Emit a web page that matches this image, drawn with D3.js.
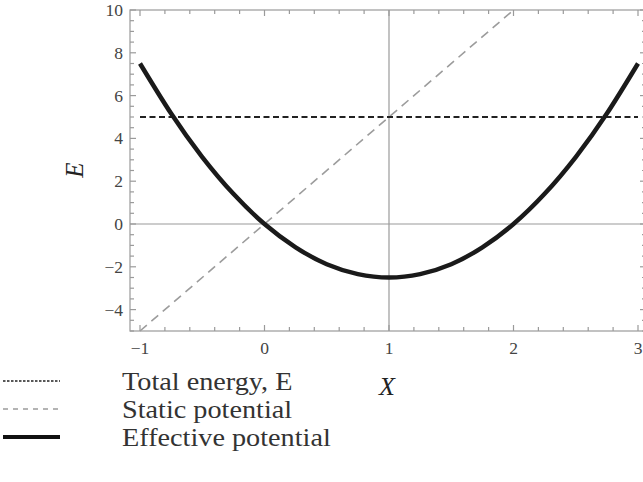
<!DOCTYPE html>
<html>
<head>
<meta charset="utf-8">
<script src="https://cdn.jsdelivr.net/npm/d3@7"></script>
<style>
  html, body { margin: 0; padding: 0; background: #fff; }
  svg { display: block; }
  text { font-family: "Liberation Serif", "DejaVu Serif", serif; }
</style>
</head>
<body>
<svg id="chart" width="643" height="482"></svg>
<script>
// Effective potential sampled along X
const effX = [-1, -0.75, -0.5, -0.25, 0, 0.25, 0.5, 0.75, 1, 1.25, 1.5, 1.75, 2, 2.25, 2.5, 2.75, 3];
const effE = [7.5, 5.16, 3.13, 1.41, 0, -1.09, -1.88, -2.34, -2.5, -2.34, -1.88, -1.09, 0, 1.41, 3.13, 5.16, 7.5];
// Static potential (straight line) endpoints
const staticX = [-1, 2];
const staticE = [-5, 10];
// Total energy level
const energyX = [-1, 3];
const energyE = [5, 5];

const xTicks = [-1, 0, 1, 2, 3];
const yTicks = [-4, -2, 0, 2, 4, 6, 8, 10];
const xTickLabels = ["\u22121", "0", "1", "2", "3"];
const yTickLabels = ["\u22124", "\u22122", "0", "2", "4", "6", "8", "10"];
const legendLabels = ["Total energy, E", "Static potential", "Effective potential"];

const svg = d3.select("#chart");

const x = d3.scaleLinear().domain([-1, 3]).range([140, 638]);
const y = d3.scaleLinear().domain([-5, 10]).range([331, 10]);

const frame = { left: 130, right: 646, top: 10, bottom: 331 };
const frameColor = "#9a9a9a";

// Axes through the frame interior (X = 1, E = 0)
svg.append("line")
  .attr("x1", frame.left).attr("x2", frame.right)
  .attr("y1", y(0)).attr("y2", y(0))
  .attr("stroke", frameColor).attr("stroke-width", 1.2);
svg.append("line")
  .attr("x1", x(1)).attr("x2", x(1))
  .attr("y1", frame.top).attr("y2", frame.bottom)
  .attr("stroke", frameColor).attr("stroke-width", 1.2);

// Frame
svg.append("rect")
  .attr("x", frame.left).attr("y", frame.top)
  .attr("width", frame.right - frame.left).attr("height", frame.bottom - frame.top)
  .attr("fill", "none").attr("stroke", frameColor).attr("stroke-width", 1.2);

// Inward ticks on all four sides
const xMinor = d3.range(-1, 3.0001, 0.2);
const yMinor = d3.range(-5, 10.0001, 0.5);
const isMajorX = v => Math.abs(v - Math.round(v)) < 1e-6;
const isMajorY = v => Math.abs(v / 2 - Math.round(v / 2)) < 1e-6;

const ticks = svg.append("g").attr("stroke", frameColor).attr("stroke-width", 1.2);
xMinor.forEach(v => {
  const len = isMajorX(v) ? 6 : 4;
  ticks.append("line").attr("x1", x(v)).attr("x2", x(v)).attr("y1", frame.bottom).attr("y2", frame.bottom - len);
  ticks.append("line").attr("x1", x(v)).attr("x2", x(v)).attr("y1", frame.top).attr("y2", frame.top + len);
});
yMinor.forEach(v => {
  const len = isMajorY(v) ? 6 : 4;
  ticks.append("line").attr("y1", y(v)).attr("y2", y(v)).attr("x1", frame.left).attr("x2", frame.left + len);
  ticks.append("line").attr("y1", y(v)).attr("y2", y(v)).attr("x1", frame.right).attr("x2", frame.right - len);
});

// Tick labels
const labelColor = "#444";
svg.append("g").selectAll("text").data(xTicks).join("text")
  .attr("x", d => x(d)).attr("y", 354)
  .attr("text-anchor", "middle").attr("font-size", 17.5).attr("fill", labelColor)
  .text((d, i) => xTickLabels[i]);
svg.append("g").selectAll("text").data(yTicks).join("text")
  .attr("x", 123).attr("y", d => y(d) + 6)
  .attr("text-anchor", "end").attr("font-size", 17.5).attr("fill", labelColor)
  .text((d, i) => yTickLabels[i]);

// Axis titles
svg.append("text")
  .attr("transform", "translate(83,170) rotate(-90)")
  .attr("text-anchor", "middle").attr("font-size", 25).attr("font-style", "italic").attr("fill", "#222")
  .text("E");
svg.append("text")
  .attr("x", x(1) - 2).attr("y", 395)
  .attr("text-anchor", "middle").attr("font-size", 26).attr("font-style", "italic").attr("fill", "#222")
  .text("X");

// Curves
const line = d3.line().x(d => x(d[0])).y(d => y(d[1]));

svg.append("path")
  .datum(staticX.map((v, i) => [v, staticE[i]]))
  .attr("d", line)
  .attr("fill", "none").attr("stroke", "#9c9c9c").attr("stroke-width", 1.6)
  .attr("stroke-dasharray", "9,6");

svg.append("path")
  .datum(energyX.map((v, i) => [v, energyE[i]]))
  .attr("d", line)
  .attr("fill", "none").attr("stroke", "#222").attr("stroke-width", 2)
  .attr("stroke-dasharray", "6,3.5");

svg.append("path")
  .datum(effX.map((v, i) => [v, effE[i]]))
  .attr("d", line.curve(d3.curveNatural))
  .attr("fill", "none").attr("stroke", "#1a1a1a").attr("stroke-width", 4.5)
  .attr("stroke-linecap", "butt");

// Legend: sample line plus a slightly wide serif label per row
const legendRows = [
  { y: 381, stroke: "#222", width: 1.4, dash: "2.5,1.5" },
  { y: 409, stroke: "#9c9c9c", width: 1.4, dash: "5,5" },
  { y: 437, stroke: "#111", width: 4, dash: null }
];
const legend = svg.append("g");
legendRows.forEach((r, i) => {
  legend.append("line")
    .attr("x1", 3).attr("x2", 60).attr("y1", r.y).attr("y2", r.y)
    .attr("stroke", r.stroke).attr("stroke-width", r.width)
    .attr("stroke-dasharray", r.dash);
  legend.append("text")
    .attr("transform", `translate(122,${r.y + 9}) scale(1.13,1)`)
    .attr("font-size", 25).attr("fill", "#333")
    .text(legendLabels[i]);
});
</script>
</body>
</html>
